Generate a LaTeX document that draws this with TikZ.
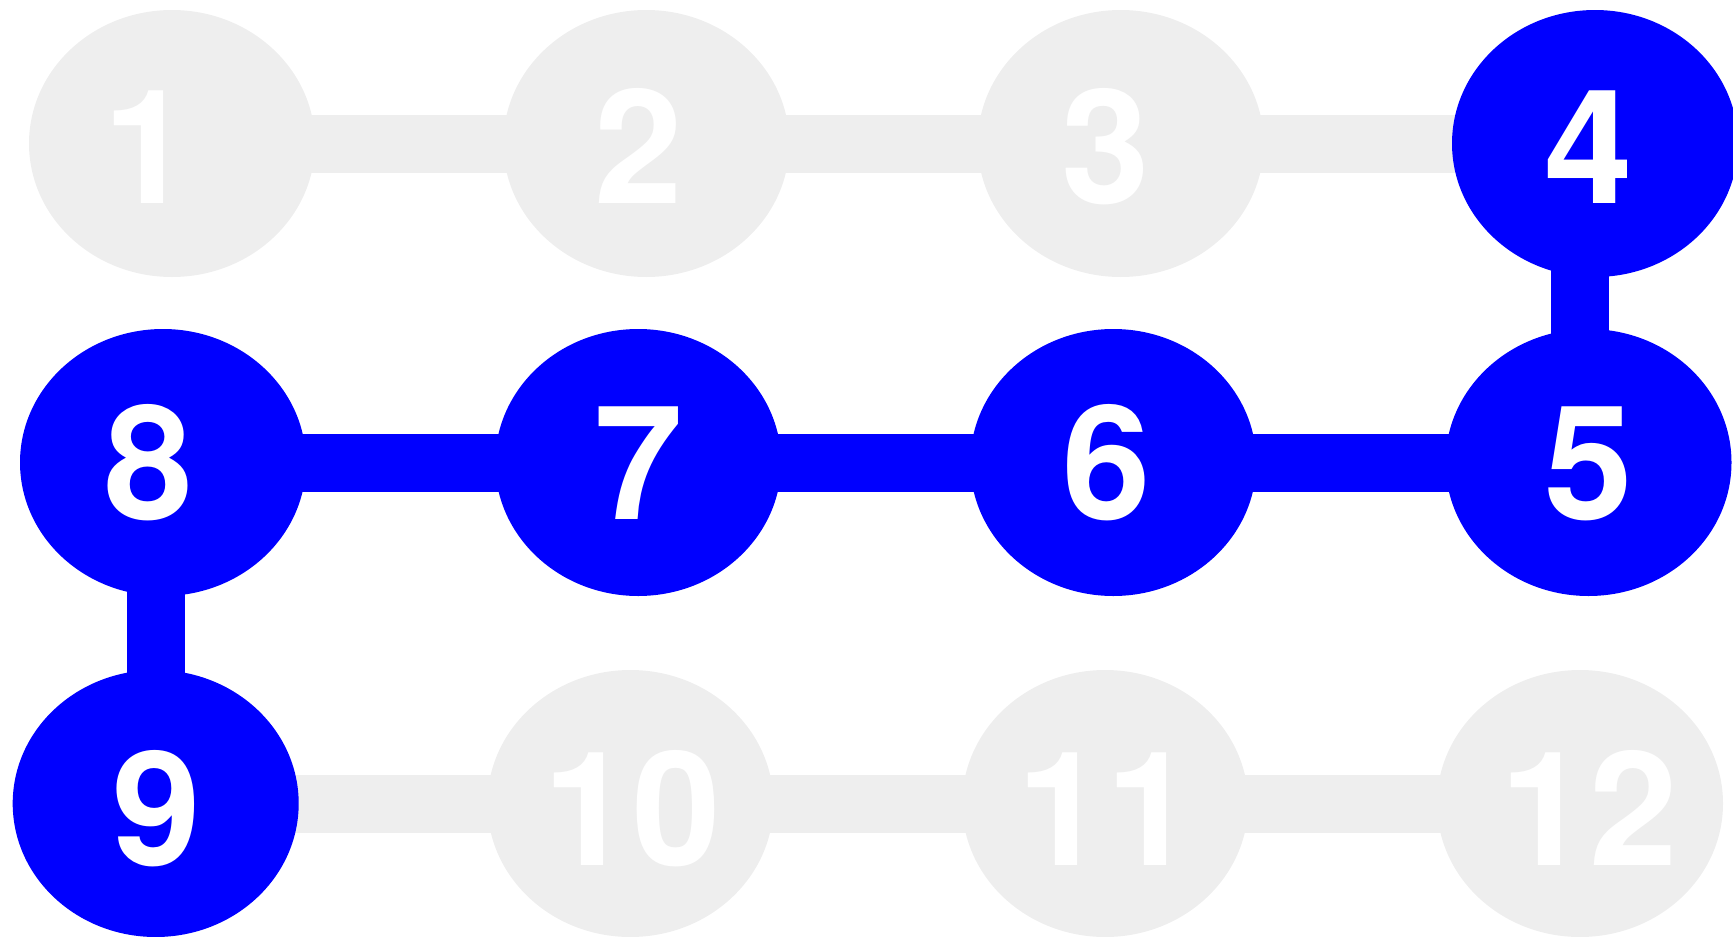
\documentclass[tikz,border=0pt]{standalone}
\usepackage{fontspec}
\setmainfont{TeX Gyre Heros}
\usetikzlibrary{shapes.geometric,backgrounds,calc}
\definecolor{offgrey}{RGB}{238,238,238}
\definecolor{hiblue}{RGB}{0,0,255}
\tikzset{
  dotbase/.style={ellipse, draw=none, minimum width=286pt, minimum height=267pt, inner sep=0pt},
  greydot/.style={dotbase, fill=offgrey},
  bluedot/.style={dotbase, fill=hiblue},
  numlbl/.style={anchor=base, inner sep=0pt, text=white, font=\fontsize{159}{159}\selectfont\bfseries},
  greyedge/.style={draw=offgrey, line width=58pt},
  blueedge/.style={draw=hiblue, line width=58pt},
}
\begin{document}
\begin{tikzpicture}[x=1pt,y=-1pt]
\useasboundingbox (0,0) rectangle (1733,937);
\clip (0,0) rectangle (1733,937);
% nodes
\node[greydot] (n1) at (172,143.5) {};
\node[greydot] (n2) at (646.3,143.5) {};
\node[greydot] (n3) at (1120.7,143.5) {};
\node[bluedot] (n4) at (1595,143.5) {};
\node[bluedot] (n8) at (163,462.5) {};
\node[bluedot] (n7) at (638.2,462.5) {};
\node[bluedot] (n6) at (1113.3,462.5) {};
\node[bluedot] (n5) at (1588.5,462.5) {};
\node[bluedot] (n9) at (155.7,803.5) {};
\node[greydot] (n10) at (630.4,803.5) {};
\node[greydot] (n11) at (1105.2,803.5) {};
\node[greydot] (n12) at (1580,803.5) {};
% labels
\node[numlbl] (t1) at (147.5,203.3) {1};
\node[numlbl] (t2) at (638.8,203.3) {2};
\node[numlbl] (t3) at (1105.8,203.3) {3};
\node[numlbl] (t4) at (1588.8,203.3) {4};
\node[numlbl] (t8) at (149.2,519.3) {8};
\node[numlbl] (t7) at (638.7,519.3) {7};
\node[numlbl] (t6) at (1106.2,519.3) {6};
\node[numlbl] (t5) at (1588.8,519.3) {5};
\node[numlbl] (t9) at (157.2,865.5) {9};
\node[numlbl] (t10) at (632.3,865.5) {10};
\node[numlbl] (t11) at (1106.1,865.5) {11};
\node[numlbl] (t12) at (1589.3,865.5) {12};
% edges
\begin{pgfonlayer}{background}
\draw[greyedge] (n1.center) -- (n2.center);
\draw[greyedge] (n2.center) -- (n3.center);
\draw[greyedge] (n3.center) -- (n4.center);
\draw[blueedge] (n4.center -| n12.center) -- (n5.center -| n12.center);
\draw[blueedge] (n5.center) -- (n6.center);
\draw[blueedge] (n6.center) -- (n7.center);
\draw[blueedge] (n7.center) -- (n8.center);
\draw[blueedge] (n8.center -| n9.center) -- (n9.center);
\draw[greyedge] (n9.center) -- (n10.center);
\draw[greyedge] (n10.center) -- (n11.center);
\draw[greyedge] (n11.center) -- (n12.center);
\end{pgfonlayer}
\end{tikzpicture}
\end{document}
